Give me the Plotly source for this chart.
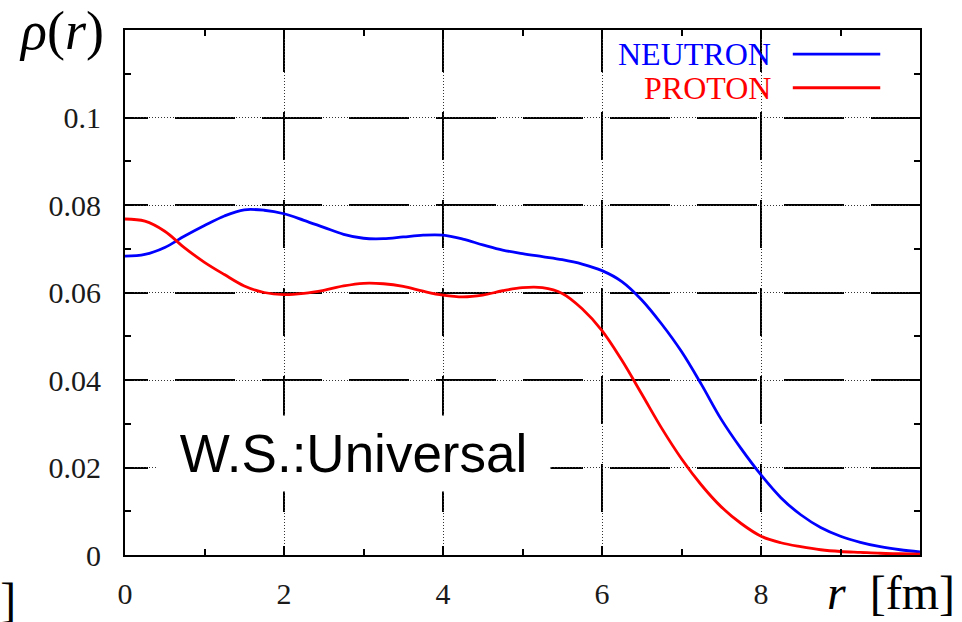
import plotly.graph_objects as go

# ---------------- data ----------------
r_fm = [0.00, 0.25, 0.50, 0.75, 1.00, 1.25, 1.50, 1.75, 2.00, 2.25, 2.50, 2.75,
        3.00, 3.25, 3.50, 3.75, 4.00, 4.25, 4.50, 4.75, 5.00, 5.25, 5.50, 5.75,
        6.00, 6.25, 6.50, 6.75, 7.00, 7.25, 7.50, 7.75, 8.00, 8.25, 8.50, 8.75,
        9.00, 9.25, 9.50, 9.75, 10.00]
rho_neutron = [0.0683, 0.0687, 0.0703, 0.0729, 0.0753, 0.0775, 0.0789, 0.0788, 0.0780, 0.0765, 0.0749, 0.0733,
               0.0724, 0.0723, 0.0727, 0.0731, 0.0731, 0.0722, 0.0709, 0.0697, 0.0689, 0.0682, 0.0675, 0.0665,
               0.0650, 0.0625, 0.0583, 0.0528, 0.0465, 0.0390, 0.0310, 0.0243, 0.0183, 0.0131, 0.0092, 0.0063,
               0.0043, 0.0029, 0.0019, 0.0012, 0.0007]
rho_proton = [0.0768, 0.0763, 0.0740, 0.0702, 0.0669, 0.0641, 0.0615, 0.0600, 0.0595, 0.0598, 0.0605, 0.0615,
              0.0621, 0.0620, 0.0614, 0.0603, 0.0594, 0.0590, 0.0594, 0.0604, 0.0611, 0.0611, 0.0598, 0.0563,
              0.0513, 0.0445, 0.0368, 0.0290, 0.0220, 0.0160, 0.0110, 0.0072, 0.0043, 0.0028, 0.0019, 0.0012,
              0.0008, 0.0006, 0.0004, 0.0003, 0.0002]

x_tickvals = [0, 2, 4, 6, 8]
x_ticktext = ["0", "2", "4", "6", "8"]
y_tickvals = [0, 0.02, 0.04, 0.06, 0.08, 0.1]
y_ticktext = ["0", "0.02", "0.04", "0.06", "0.08", "0.1"]

series_names = ["NEUTRON", "PROTON"]
series_colors = ["#0000ff", "#ff0000"]

# ---------------- style helpers ----------------
def dash_pattern(first_dash, first_gap, dash, gap, total):
    parts = [first_dash, first_gap]
    s = first_dash + first_gap
    while s < total:
        parts += [dash, gap]
        s += dash + gap
    return ",".join(f"{p}px" for p in parts)

h_grid_dash = dash_pattern(23, 27, 60, 27, 900)   # horizontal grid lines (from left)
v_grid_dash = dash_pattern(42, 40, 48, 40, 600)   # vertical grid lines (from top)

serif = "Liberation Serif"
tick_font = dict(family=serif, size=30, color="#1a1a1a")

fig = go.Figure()

for name, ys, col in zip(series_names, [rho_neutron, rho_proton], series_colors):
    fig.add_trace(go.Scatter(x=r_fm, y=ys, mode="lines", name=name,
                             line=dict(color=col, width=2.8, shape="spline", smoothing=1.0),
                             showlegend=False, hoverinfo="skip"))

# invisible trace to instantiate the overlay axes (dotted grid layer)
fig.add_trace(go.Scatter(x=r_fm, y=rho_neutron, mode="lines", xaxis="x2", yaxis="y2",
                         line=dict(width=0), opacity=0, showlegend=False, hoverinfo="skip"))

fig.update_layout(
    width=962, height=622,
    margin=dict(l=125, r=42, t=30, b=67),
    paper_bgcolor="white", plot_bgcolor="white",
    xaxis=dict(range=[0, 10], tickvals=x_tickvals, ticktext=x_ticktext,
               showgrid=True, gridcolor="black", gridwidth=1.6, griddash=v_grid_dash,
               zeroline=False, showline=True, linecolor="black", linewidth=2,
               mirror="allticks", ticks="inside", ticklen=9, tickwidth=1.6, tickcolor="black",
               minor=dict(dtick=1, ticks="inside", ticklen=6, tickwidth=1.6, tickcolor="black",
                          showgrid=False),
               tickfont=tick_font, ticklabelstandoff=11),
    yaxis=dict(range=[0, 0.12], tickvals=y_tickvals, ticktext=y_ticktext,
               showgrid=True, gridcolor="black", gridwidth=1.6, griddash=h_grid_dash,
               zeroline=False, showline=True, linecolor="black", linewidth=2,
               mirror="allticks", ticks="inside", ticklen=9, tickwidth=1.6, tickcolor="black",
               minor=dict(dtick=0.01, ticks="inside", ticklen=6, tickwidth=1.6, tickcolor="black",
                          showgrid=False),
               tickfont=tick_font, ticklabelstandoff=16),
    xaxis2=dict(overlaying="x", matches="x", range=[0, 10], tickvals=x_tickvals,
                showgrid=True, gridcolor="#333333", gridwidth=1, griddash="1px,2px",
                showticklabels=False, ticks="", zeroline=False, showline=False),
    yaxis2=dict(overlaying="y", matches="y", range=[0, 0.12], tickvals=y_tickvals,
                showgrid=True, gridcolor="#333333", gridwidth=1, griddash="1px,2px",
                showticklabels=False, ticks="", zeroline=False, showline=False),
)

# legend (text right-aligned, line sample on the right, gnuplot style)
legend_y = [0.954, 0.890]
for name, col, ly in zip(series_names, series_colors, legend_y):
    fig.add_annotation(xref="paper", yref="paper", x=0.815, y=ly, xanchor="right", yanchor="middle",
                       text=name, showarrow=False, font=dict(family=serif, size=32, color=col))
    fig.add_shape(type="line", xref="paper", yref="paper", x0=0.840, x1=0.950, y0=ly, y1=ly,
                  line=dict(color=col, width=2.8))

# label box
fig.add_annotation(xref="paper", yref="paper", x=0.288, y=0.194, xanchor="center", yanchor="middle",
                   text=" W.S.:Universal ", showarrow=False, bgcolor="white", borderpad=8,
                   font=dict(family="Liberation Sans", size=53, color="black"))

# axis titles
fig.add_annotation(xref="paper", yref="paper", x=-0.0805, y=0.998, xanchor="center", yanchor="middle",
                   text="<i>ρ</i>(<i>r</i>)", showarrow=False,
                   font=dict(family=serif, size=54, color="black"))
fig.add_annotation(xref="paper", yref="paper", x=0.9635, y=-0.0705, xanchor="center", yanchor="middle",
                   text="<i>r</i>  [fm]", showarrow=False,
                   font=dict(family=serif, size=48, color="black"))
# cropped fragment of a neighbouring label at the bottom-left edge
fig.add_annotation(xref="paper", yref="paper", x=-0.135, y=-0.085, xanchor="right", yanchor="middle",
                   text="[a.u.]", showarrow=False,
                   font=dict(family=serif, size=48, color="black"))

fig.write_html("out.html")
